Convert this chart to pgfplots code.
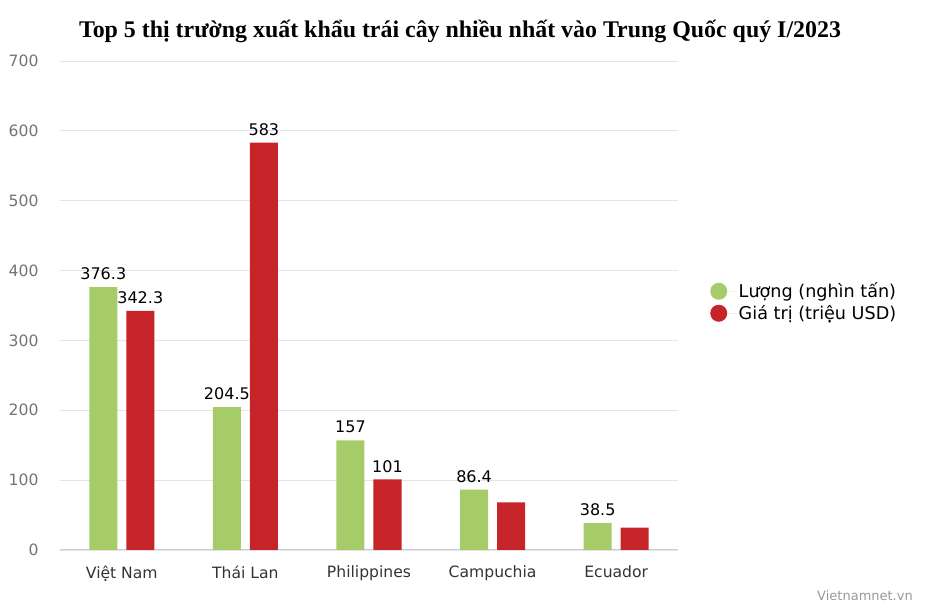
\documentclass[border=0pt]{standalone}
\usepackage{fontspec}
\setmainfont{DejaVu Sans}
\newfontfamily\titlefont{Liberation Serif}
\usepackage{pgfplots}
\pgfplotsset{compat=1.18}
\definecolor{luong}{HTML}{A6CC6A}
\definecolor{giatri}{HTML}{C62429}
\definecolor{gridc}{HTML}{E4E4E4}
\definecolor{baseax}{HTML}{C4D0DC}
\begin{document}
\begin{tikzpicture}
\useasboundingbox (0pt,0pt) rectangle (927pt,612pt);
\node[font=\titlefont\bfseries\fontsize{23.9}{28}\selectfont] at (460pt,581pt)
  {Top 5 thị trường xuất khẩu trái cây nhiều nhất vào Trung Quốc quý I/2023};
\node[font=\fontsize{13}{15}\selectfont, text=black!40] at (865pt,16pt) {Vietnamnet.vn};
\begin{axis}[
  at={(60pt,62pt)}, anchor=south west,
  width=618pt, height=489pt, scale only axis,
  ybar=9pt, bar width=28pt,
  xmin=-0.5, xmax=4.5, ymin=0, ymax=700,
  xtick=data,
  xticklabels={Việt Nam, Thái Lan, Philippines, Campuchia, Ecuador},
  ytick={0,100,...,700},
  major tick length=0pt,
  ymajorgrids, grid style={gridc, line width=0.8pt},
  axis x line*=bottom, axis y line*=left,
  x axis line style={baseax, line width=1pt, -},
  y axis line style={draw=none},
  ticklabel style={font=\fontsize{15.6}{18}\selectfont},
  xticklabel style={text=black!80, yshift=-12pt},
  yticklabel style={text=black!55, xshift=-18pt},
  /pgf/number format/assume math mode=true,
  nodes near coords,
  point meta=explicit symbolic,
  every node near coord/.append style={font=\fontsize{16}{18}\selectfont, text=black, anchor=south, inner sep=2pt, yshift=5pt},
  legend style={at={(1.047,0.507)}, anchor=west, draw=none, fill=none,
    font=\fontsize{17.6}{20}\selectfont, row sep=2pt},
  legend image code/.code={\fill[#1, draw=none] (5pt,0pt) circle (8.5pt); \path (0pt,0pt) -- (23pt,0pt);},
  legend cell align=left,
]
\addplot[fill=luong, draw=none] coordinates {
  (0,376.3) [376.3] (1,204.5) [204.5] (2,157) [157] (3,86.4) [86.4] (4,38.5) [38.5]};
\addplot[fill=giatri, draw=none] coordinates {
  (0,342.3) [342.3] (1,583) [583] (2,101) [101] (3,68) [] (4,32) []};
\legend{Lượng (nghìn tấn), Giá trị (triệu USD)}
\end{axis}
\end{tikzpicture}
\end{document}
